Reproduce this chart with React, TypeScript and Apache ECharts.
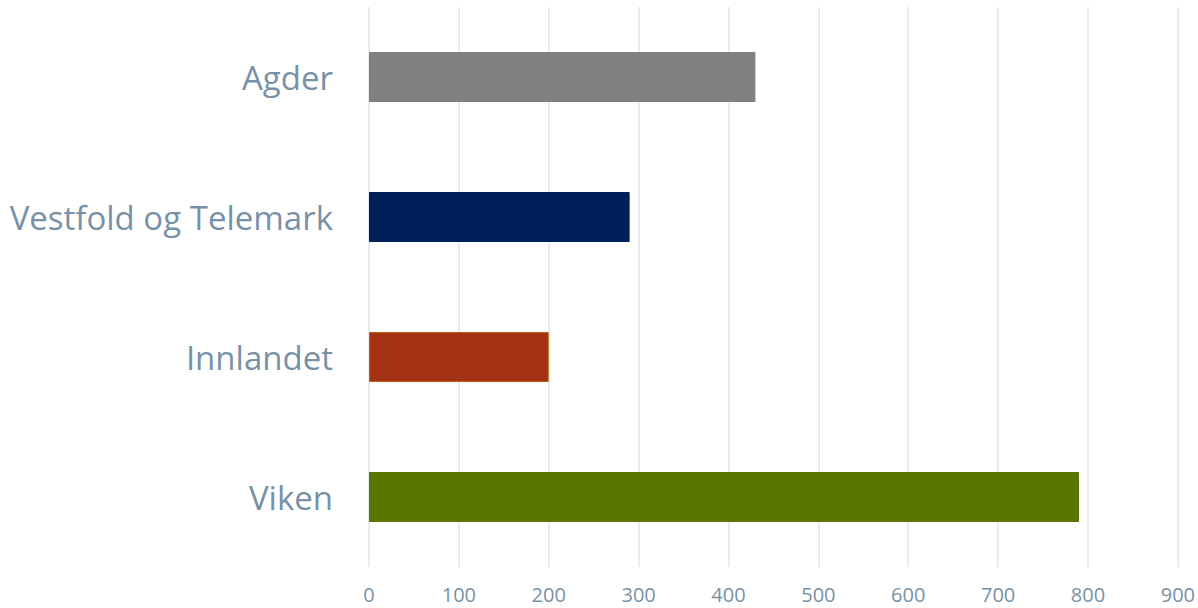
import React, { useEffect, useRef } from "react";
import * as echarts from "echarts";

const categories = ["Viken", "Innlandet", "Vestfold og Telemark", "Agder"];
const values = [790, 200, 290, 430];
const colors = ["#5A7500", "#A33214", "#00205B", "#808080"];
const borders = ["#5A7500", "#C0600F", "#00205B", "#808080"];

export default function App() {
  const ref = useRef<HTMLDivElement>(null);
  useEffect(() => {
    const chart = echarts.init(ref.current!, null, { renderer: "svg" });
    chart.setOption({
      animation: false,
      backgroundColor: "#ffffff",
      grid: { left: 369, right: 19, top: 7, bottom: 41, containLabel: false },
      xAxis: {
        type: "value",
        min: 0,
        max: 900,
        interval: 100,
        axisLine: { show: false },
        axisTick: { show: false },
        splitLine: { show: true, lineStyle: { color: "#E1E5EA", width: 1.5 } },
        axisLabel: {
          color: "#7891A6",
          fontSize: 20,
          lineHeight: 20,
          fontFamily: "Open Sans",
          margin: 17,
        },
      },
      yAxis: {
        type: "category",
        data: categories,
        axisLine: { show: false },
        axisTick: { show: false },
        splitLine: { show: false },
        axisLabel: {
          color: "#7891A6",
          fontSize: 33,
          fontFamily: "Open Sans",
          margin: 36,
        },
      },
      series: [
        {
          type: "bar",
          barWidth: 50,
          data: values.map((v, i) => ({
            value: v,
            itemStyle: { color: colors[i], borderColor: borders[i], borderWidth: 1 },
          })),
        },
      ],
    });
    return () => chart.dispose();
  }, []);
  return (
    <div
      ref={ref}
      style={{ position: "fixed", left: 0, top: 0, width: 1198, height: 608 }}
    />
  );
}
